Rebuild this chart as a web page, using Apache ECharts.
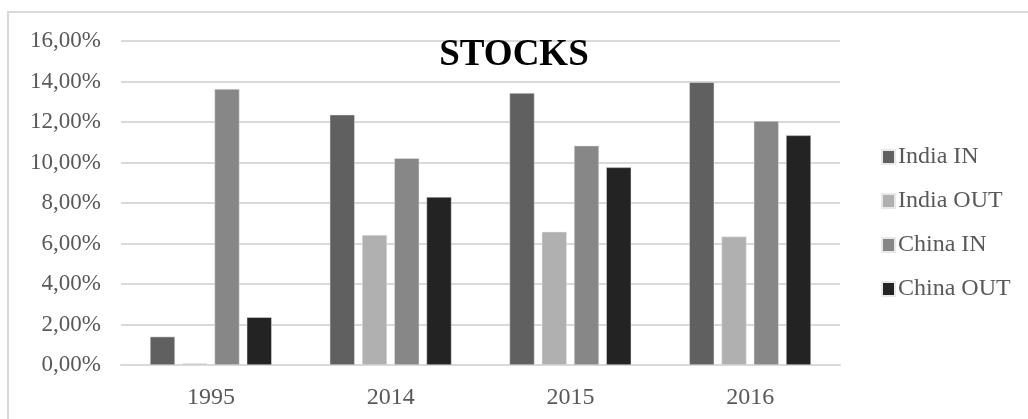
<!DOCTYPE html>
<html>
<head>
<meta charset="utf-8">
<script src="https://cdn.jsdelivr.net/npm/echarts@6/dist/echarts.min.js"></script>
<style>
html,body{margin:0;padding:0;background:#fff;}
#chart{width:1028px;height:419px;}
</style>
</head>
<body>
<div id="chart"></div>
<script>
const categories = ['1995', '2014', '2015', '2016'];
const indiaIn  = [1.40, 12.36, 13.43, 13.96];
const indiaOut = [0.08, 6.42, 6.58, 6.34];
const chinaIn  = [13.63, 10.21, 10.83, 12.05];
const chinaOut = [2.36, 8.30, 9.76, 11.34];
const seriesNames = ['India IN', 'India OUT', 'China IN', 'China OUT'];
const seriesColors = ['#606060', '#b0b0b0', '#878787', '#232323'];
const seriesData = [indiaIn, indiaOut, chinaIn, chinaOut];

const serif = '"Liberation Serif", "DejaVu Serif", serif';
const chart = echarts.init(document.getElementById('chart'), null, {renderer: 'canvas'});
chart.setOption({
  animation: false,
  backgroundColor: '#ffffff',
  title: {
    text: 'STOCKS',
    left: 'center',
    top: 37,
    padding: 0,
    textStyle: {fontFamily: serif, fontSize: 37, fontWeight: 'bold', color: '#000000'}
  },
  graphic: [{
    type: 'rect',
    shape: {x: 8, y: 12, width: 1040, height: 430},
    style: {fill: 'none', stroke: '#d9d9d9', lineWidth: 2},
    silent: true
  }],
  legend: {
    orient: 'vertical',
    left: 881,
    top: 145,
    padding: 0,
    itemWidth: 13,
    itemHeight: 14,
    itemGap: 20,
    icon: 'rect',
    textStyle: {fontFamily: serif, fontSize: 24, color: '#595959', padding: [0,0,0,-2]},
    data: seriesNames
  },
  grid: {left: 121, right: 188, top: 41, bottom: 54},
  xAxis: {
    type: 'category',
    data: categories,
    axisTick: {show: false},
    axisLine: {lineStyle: {color: '#d9d9d9', width: 2}},
    axisLabel: {fontFamily: serif, fontSize: 24, color: '#595959', margin: 21}
  },
  yAxis: {
    type: 'value',
    min: 0,
    max: 16,
    interval: 2,
    axisLine: {show: false},
    axisTick: {show: false},
    splitLine: {lineStyle: {color: '#d9d9d9', width: 2}},
    axisLabel: {
      fontFamily: serif, fontSize: 23, color: '#595959', margin: 20,
      formatter: v => v.toFixed(2).replace('.', ',') + '%'
    }
  },
  series: seriesNames.map((n, i) => ({
    name: n,
    type: 'bar',
    data: seriesData[i],
    barWidth: 25,
    barGap: '29%',
    itemStyle: {color: seriesColors[i], borderColor: '#e8e8e8', borderWidth: 0.5}
  }))
});
</script>
</body>
</html>
